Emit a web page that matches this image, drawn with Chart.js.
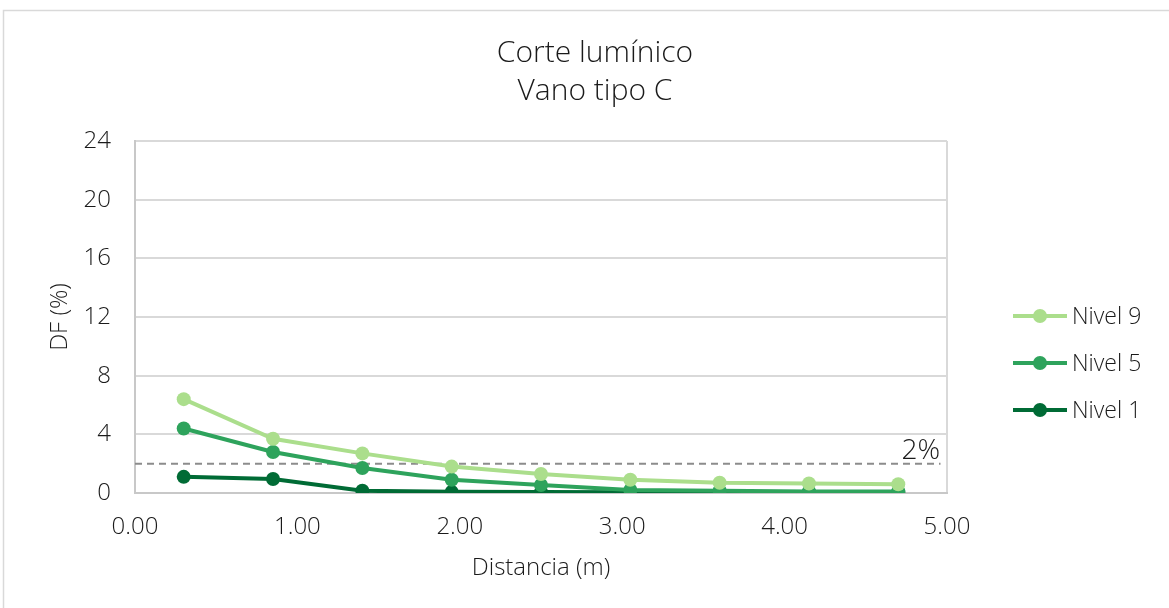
<!DOCTYPE html>
<html>
<head>
<meta charset="utf-8">
<script src="https://cdn.jsdelivr.net/npm/chart.js@4"></script>
<style>
  html, body { margin: 0; padding: 0; background: #fff; }
</style>
</head>
<body>
<canvas id="chart" width="1169" height="608"></canvas>
<script>
const distancias = [0.30, 0.85, 1.40, 1.95, 2.50, 3.05, 3.60, 4.15, 4.70];
const nivel9 = [6.4, 3.7, 2.7, 1.8, 1.3, 0.9, 0.7, 0.65, 0.6];
const nivel5 = [4.4, 2.8, 1.7, 0.9, 0.55, 0.2, 0.15, 0.1, 0.1];
const nivel1 = [1.1, 0.95, 0.15, 0.08, 0.06, 0.05, 0.05, 0.05, 0.05];
const limite = 2;
const limiteX = [0, 4.96];
const titulo = ['Corte lumínico', 'Vano tipo C'];

const FONT = '"Open Sans", Roboto, sans-serif';
const TXT = '#1a1a1a';

function puntos(vals) {
  return vals.map((v, i) => ({ x: distancias[i], y: v }));
}

function serie(label, vals, color) {
  return {
    label: label,
    data: puntos(vals),
    borderColor: color,
    backgroundColor: color,
    borderWidth: 4,
    pointRadius: 7,
    pointHoverRadius: 7,
    pointBorderWidth: 0,
    tension: 0
  };
}

// marco, título, etiqueta del 2% y leyenda
const extras = {
  id: 'extras',
  beforeDraw(chart) {
    const c = chart.ctx;
    c.save();
    c.fillStyle = '#fff';
    c.fillRect(0, 0, chart.width, chart.height);
    c.strokeStyle = '#d9d9d9';
    c.lineWidth = 1.5;
    c.strokeRect(3.5, 10.5, chart.width, chart.height);

    c.fillStyle = TXT;
    c.font = '300 30px ' + FONT;
    c.textAlign = 'center';
    c.textBaseline = 'middle';
    titulo.forEach((t, i) => c.fillText(t, 595, 53 + i * 38));
    c.restore();
  },
  afterDatasetsDraw(chart) {
    const c = chart.ctx;
    const y = chart.scales.y.getPixelForValue(limite);
    c.save();
    c.fillStyle = TXT;
    c.font = '300 28px ' + FONT;
    c.textAlign = 'right';
    c.textBaseline = 'alphabetic';
    c.fillText('2%', chart.chartArea.right - 7, y - 5);

    // leyenda
    const ds = chart.data.datasets.slice(0, 3);
    c.font = '300 23px ' + FONT;
    c.textAlign = 'left';
    c.textBaseline = 'middle';
    ds.forEach((d, i) => {
      const yy = 316 + i * 47;
      c.strokeStyle = d.borderColor;
      c.lineWidth = 4;
      c.beginPath();
      c.moveTo(1013, yy);
      c.lineTo(1067, yy);
      c.stroke();
      c.fillStyle = d.borderColor;
      c.beginPath();
      c.arc(1040, yy, 7, 0, Math.PI * 2);
      c.fill();
      c.fillStyle = TXT;
      c.fillText(d.label, 1072, yy + 1);
    });
    c.restore();
  }
};

new Chart(document.getElementById('chart'), {
  type: 'line',
  data: {
    datasets: [
      serie('Nivel 9', nivel9, '#abde8c'),
      serie('Nivel 5', nivel5, '#2ea35c'),
      serie('Nivel 1', nivel1, '#006b35'),
      {
        label: '2%',
        data: limiteX.map(x => ({ x: x, y: limite })),
        borderColor: '#8c8c8c',
        borderWidth: 2,
        borderDash: [7, 5],
        pointRadius: 0,
        order: 10
      }
    ]
  },
  plugins: [extras],
  options: {
    responsive: false,
    animation: false,
    layout: { padding: { left: 0, right: 222, top: 141, bottom: 0 } },
    plugins: {
      title: { display: false },
      legend: { display: false },
      tooltip: { enabled: false }
    },
    scales: {
      x: {
        type: 'linear',
        min: 0,
        max: 5,
        afterFit: s => { s.height = 115; },
        ticks: {
          stepSize: 1,
          color: TXT,
          font: { family: FONT, size: 24, weight: '300' },
          callback: v => v.toFixed(2),
          padding: 20,
          maxRotation: 0
        },
        grid: {
          color: ctx => (ctx.index === 0 || ctx.index === 5) ? '#d9d9d9' : 'rgba(0,0,0,0)',
          lineWidth: 2,
          drawTicks: false
        },
        border: { color: '#c8c8c8', width: 2 },
        title: {
          display: true,
          text: 'Distancia (m)',
          color: TXT,
          font: { family: FONT, size: 24, weight: '300' },
          padding: { top: 0, bottom: 25 }
        }
      },
      y: {
        min: 0,
        max: 24,
        afterFit: s => { s.width = 135; },
        ticks: {
          stepSize: 4,
          color: TXT,
          font: { family: FONT, size: 24, weight: '300' },
          padding: 24
        },
        grid: { color: '#d9d9d9', lineWidth: 2, drawTicks: false },
        border: { color: '#c8c8c8', width: 2 },
        title: {
          display: true,
          text: 'DF (%)',
          color: TXT,
          font: { family: FONT, size: 24, weight: '300' },
          padding: { top: 46, bottom: 0 }
        }
      }
    }
  }
});
</script>
</body>
</html>
